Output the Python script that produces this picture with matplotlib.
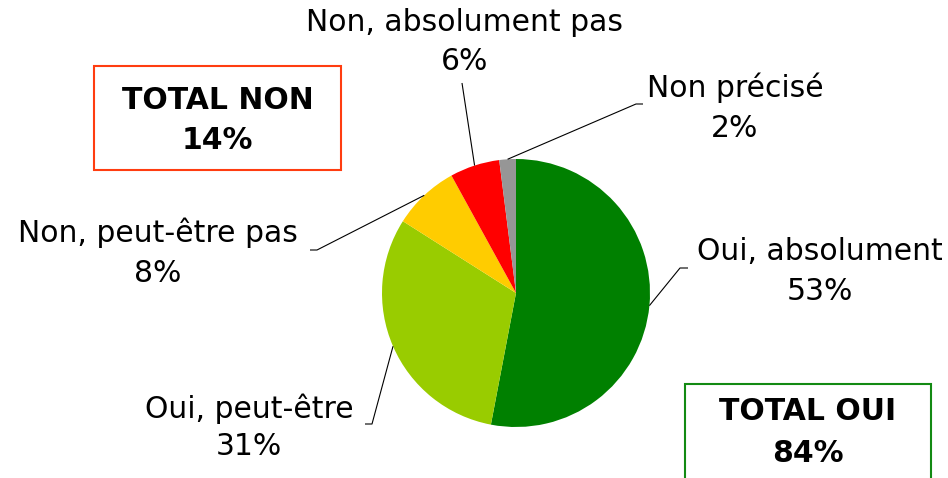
import numpy as np
import matplotlib
matplotlib.use("Agg")
import matplotlib.pyplot as plt
from matplotlib.patches import Rectangle

W, H = 948, 478

categories = ["Oui, absolument", "Oui, peut-être", "Non, peut-être pas",
              "Non, absolument pas", "Non précisé"]
values = [53, 31, 8, 6, 2]
pct_labels = ["53%", "31%", "8%", "6%", "2%"]
colors = ["#008000", "#99CC00", "#FFCC00", "#FF0000", "#969696"]

total_non_label = "TOTAL NON"
total_non_value = "14%"
total_oui_label = "TOTAL OUI"
total_oui_value = "84%"

FS = 21.5

fig = plt.figure(figsize=(W / 100, H / 100), dpi=100)
ax = fig.add_axes([0, 0, 1, 1])

def Y(y):
    return H - y

cx, cy, R = 516, 293, 134
wedges, _ = ax.pie(values, colors=colors, startangle=90, counterclock=False,
                   center=(cx, Y(cy)), radius=R,
                   wedgeprops=dict(linewidth=0))

# label layout: (text center x, baseline y of name, baseline y of pct, elbow point, end point)
layout = [
    (820, 260, 300, (680, 268), (688, 268)),
    (249, 418, 455, (372, 424), (365, 424)),
    (158, 242, 282, (317, 250), (310, 250)),
    (465, 31, 70, (462, 83), (462, 83)),
    (735, 97, 137, (636, 104), (643, 104)),
]

for w, cat, pct, (tx, b1, b2, elbow, end) in zip(wedges, categories, pct_labels, layout):
    mid = np.deg2rad((w.theta1 + w.theta2) / 2)
    sx = cx + R * np.cos(mid)
    sy = Y(cy) + R * np.sin(mid)
    ax.plot([sx, elbow[0], end[0]], [sy, Y(elbow[1]), Y(end[1])],
            color="black", lw=0.8, solid_capstyle="butt")
    ax.text(tx, Y(b1), cat, ha="center", va="baseline", fontsize=FS, color="black")
    ax.text(tx, Y(b2), pct, ha="center", va="baseline", fontsize=FS, color="black")

# total boxes
ax.add_patch(Rectangle((94, Y(170)), 247, 104, fill=False, edgecolor="#FF3D10", lw=1.5))
ax.text(217.5, Y(109), total_non_label, ha="center", va="baseline", fontsize=FS, fontweight="bold")
ax.text(217.5, Y(149), total_non_value, ha="center", va="baseline", fontsize=FS, fontweight="bold")

ax.add_patch(Rectangle((685, Y(490)), 246, 106, fill=False, edgecolor="#138A13", lw=1.5))
ax.text(808, Y(420), total_oui_label, ha="center", va="baseline", fontsize=FS, fontweight="bold")
ax.text(808, Y(462), total_oui_value, ha="center", va="baseline", fontsize=FS, fontweight="bold")

ax.set_xlim(0, W)
ax.set_ylim(0, H)
ax.set_aspect("equal")
ax.axis("off")

fig.savefig("out.png", dpi=100, facecolor="white")
